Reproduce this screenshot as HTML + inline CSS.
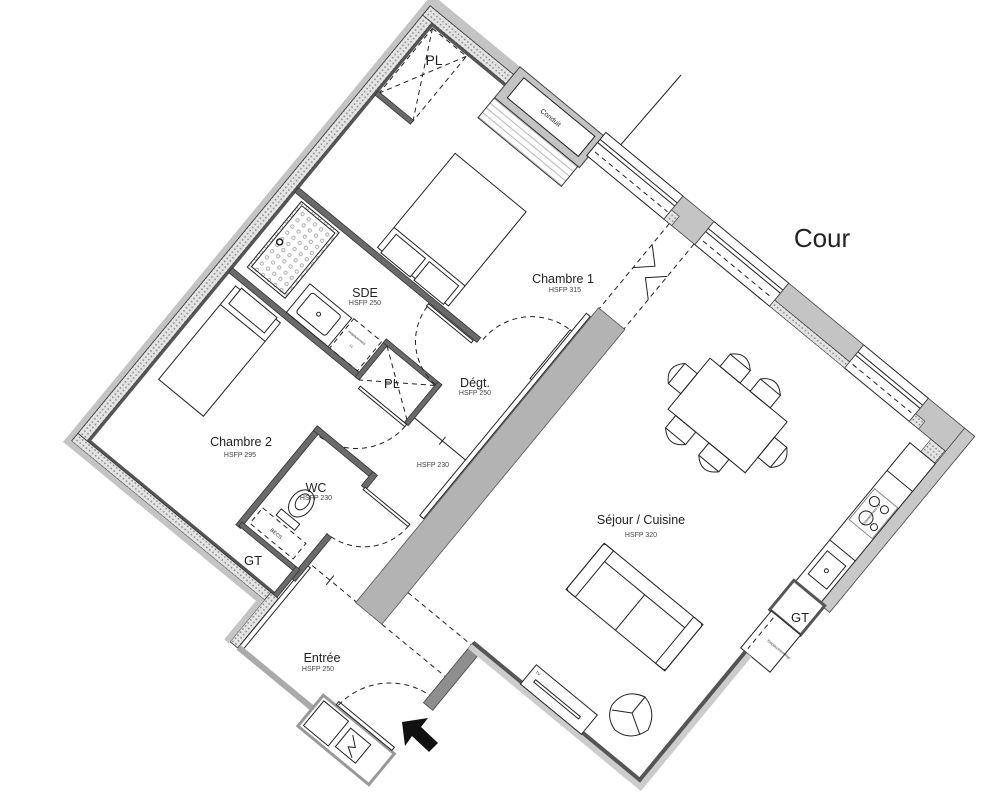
<!DOCTYPE html>
<html><head><meta charset="utf-8"><style>
html,body{margin:0;padding:0;background:#fff;width:994px;height:800px;overflow:hidden;}
#wrap{width:994px;height:800px;overflow:hidden;position:relative;}
svg{display:block;overflow:hidden;}
text{font-family:"Liberation Sans",Arial,sans-serif;fill:#222;}
.s{fill:none;stroke:#222;stroke-width:1;}
.w{fill:#fff;stroke:#222;stroke-width:1;}
.d{fill:none;stroke:#222;stroke-width:1;stroke-dasharray:5,4;}
.iw{fill:#6a6a6a;stroke:#333;stroke-width:0.8;}
.g{fill:#c4c4c4;stroke:#444;stroke-width:0.8;}
.h{font-size:7px;fill:#444;}
.l{font-size:12.5px;}
</style></head><body><div id="wrap">
<svg width="994" height="800" viewBox="0 0 994 800" xmlns="http://www.w3.org/2000/svg">
<defs>
<pattern id="ins" width="4" height="4" patternUnits="userSpaceOnUse"><rect width="4" height="4" fill="#e4e4e4"/><circle cx="2" cy="2" r="0.9" fill="#888"/></pattern>
<pattern id="dots" width="8" height="8" patternUnits="userSpaceOnUse"><rect width="8" height="8" fill="#fff"/><circle cx="4" cy="4" r="1.6" fill="none" stroke="#999" stroke-width="0.7"/></pattern>
<pattern id="hatch" width="6" height="6" patternUnits="userSpaceOnUse"><rect width="6" height="6" fill="#fff"/><line x1="0" y1="3" x2="6" y2="3" stroke="#999" stroke-width="0.7"/></pattern>
<clipPath id="cp"><rect x="0" y="0" width="994" height="800"/></clipPath>
</defs>
<g clip-path="url(#cp)">
<line x1="618" y1="148" x2="681" y2="75" class="s"/>
<circle cx="702" cy="218" r="3.5" class="w"/>

<g transform="translate(430,3) rotate(39.5)">
<rect x="-4" y="-6" width="6" height="578" fill="#c4c4c4"/>
<rect x="2" y="2" width="12" height="554" fill="url(#ins)" stroke="#333" stroke-width="0.8"/>
<rect x="14" y="14" width="3" height="540" fill="#555"/>
<rect x="-4" y="-8" width="116" height="10" fill="#c4c4c4"/>
<rect x="2" y="2" width="108" height="12" fill="url(#ins)" stroke="#333" stroke-width="0.8"/>
<rect x="14" y="14" width="96" height="3" fill="#555"/>
<rect x="110" y="-8" width="110" height="40" fill="#c4c4c4" stroke="#444"/>
<rect x="120" y="-2" width="92" height="26" class="w"/>
<text x="166" y="14" font-size="7" text-anchor="middle">Conduit</text>
<rect x="110" y="32" width="108" height="26" fill="url(#hatch)" stroke="#333"/>
<g>
<rect x="218" y="-12" width="100" height="30" class="w"/><line x1="218" y1="-3" x2="318" y2="-3" class="s"/><line x1="218" y1="1" x2="318" y2="1" class="s"/><line x1="222" y1="10" x2="316" y2="10" class="d"/>
<rect x="358" y="-12" width="97" height="30" class="w"/><line x1="358" y1="-3" x2="455" y2="-3" class="s"/><line x1="358" y1="1" x2="455" y2="1" class="s"/><line x1="362" y1="10" x2="452" y2="10" class="d"/>
<rect x="552" y="-12" width="84" height="30" class="w"/><line x1="552" y1="-3" x2="636" y2="-3" class="s"/><line x1="552" y1="1" x2="636" y2="1" class="s"/><line x1="556" y1="10" x2="632" y2="10" class="d"/>
</g>
<rect x="318" y="-12" width="40" height="30" class="g"/>
<rect x="318" y="6" width="10" height="12" fill="url(#ins)" stroke="#333" stroke-width="0.6"/>
<rect x="455" y="-12" width="97" height="22" class="g"/>
<rect x="455" y="10" width="97" height="8" fill="url(#ins)" stroke="#333" stroke-width="0.6"/>
<rect x="636" y="-12" width="60" height="30" class="g"/>
<rect x="636" y="8" width="12" height="10" fill="url(#ins)" stroke="#333" stroke-width="0.6"/>
<rect x="683" y="-12" width="13" height="228" fill="#c8c8c8" stroke="#444" stroke-width="0.8"/>
<rect x="664" y="18" width="18" height="16" fill="url(#ins)" stroke="#333" stroke-width="0.6"/>
<rect x="650" y="34" width="33" height="180" class="w"/>
<line x1="650" y1="70" x2="683" y2="70" class="s"/>
<rect x="652" y="92" width="30" height="40" fill="#fff" stroke="#888"/>
<circle cx="660" cy="102" r="5" class="s"/><circle cx="673" cy="102" r="4" class="s"/><circle cx="664" cy="120" r="7" class="s"/><circle cx="676" cy="122" r="3.5" class="s"/>
<line x1="650" y1="160" x2="683" y2="160" class="s"/>
<rect x="655" y="170" width="24" height="30" class="s"/><circle cx="667" cy="186" r="2" class="s"/>
<text x="690" y="140" font-size="3.5" transform="rotate(-90 672 145)">Emplacement LV</text>
<rect x="648" y="214" width="40" height="38" fill="#fff" stroke="#555" stroke-width="3"/>
<rect x="650" y="252" width="38" height="48" class="w"/>
<line x1="656" y1="256" x2="656" y2="296" class="d"/>
<text x="666" y="278" font-size="3.5">Emplacement frigo</text>
<rect x="14" y="553" width="245" height="3" fill="#555"/>
<rect x="2" y="556" width="257" height="10" fill="url(#ins)" stroke="#333" stroke-width="0.8"/>
<rect x="-4" y="566" width="256" height="6" fill="#c4c4c4"/>
<rect x="252" y="556" width="10" height="64" fill="url(#ins)" stroke="#333" stroke-width="0.8"/>
<rect x="246" y="566" width="6" height="56" fill="#c4c4c4"/>
<rect x="262" y="512" width="5" height="106" class="w"/>
<rect x="262" y="616" width="98" height="6" fill="#aaa"/>
<rect x="358" y="602" width="92" height="40" fill="#fff" stroke="#999" stroke-width="3"/>
<rect x="362" y="606" width="32" height="32" class="s"/>
<rect x="400" y="610" width="26" height="24" class="s"/>
<polyline points="406,614 416,622 410,626 420,632" class="s"/>
<rect x="374" y="597" width="72" height="4" class="w"/>
<path d="M376,600 A71,71 0 0 1 447,534" class="d"/>
<rect x="440" y="466" width="12" height="78" fill="#8e8e8e" stroke="#444" stroke-width="0.8"/>
<rect x="440" y="468" width="222" height="6" fill="#ccc"/>
<rect x="440" y="464" width="220" height="4" fill="#555"/>
<rect x="658" y="300" width="6" height="174" fill="#ccc"/>
<rect x="654" y="300" width="4" height="168" fill="#555"/>
<rect x="18" y="18" width="44" height="84" class="d"/>
<line x1="18" y1="18" x2="62" y2="102" class="d"/><line x1="62" y1="18" x2="18" y2="102" class="d"/>
<rect x="16" y="101" width="46" height="5" class="iw"/>
<rect x="16" y="226" width="236" height="6" class="iw"/>
<rect x="16" y="330" width="168" height="6" class="iw"/>
<rect x="180" y="287" width="5" height="49" class="iw"/>
<rect x="180" y="287" width="72" height="5" class="iw"/>
<rect x="247" y="287" width="5" height="53" class="iw"/>
<line x1="185" y1="292" x2="247" y2="336" class="d"/><line x1="247" y1="292" x2="185" y2="336" class="d"/>
<rect x="190" y="233" width="58" height="3" class="w"/>
<path d="M191,236 A57,57 0 0 0 248,291" class="d"/>
<rect x="316" y="163" width="4" height="63" class="w"/>
<path d="M255,226 A63,63 0 0 1 318,163" class="d"/>
<rect x="190" y="340" width="60" height="3" class="w"/>
<path d="M250,342 A64,64 0 0 1 186,405" class="d"/>
<line x1="252" y1="330" x2="324" y2="330" class="s"/>
<line x1="288" y1="325" x2="288" y2="335" class="s"/>
<rect x="182" y="398" width="6" height="128" class="iw"/>
<rect x="182" y="398" width="76" height="6" class="iw"/>
<rect x="254" y="398" width="6" height="18" class="iw"/>
<rect x="258" y="415" width="58" height="3" class="w"/>
<path d="M316,417 A58,58 0 0 1 258,475" class="d"/>
<rect x="258" y="475" width="6" height="57" class="iw"/>
<rect x="185" y="520" width="75" height="5" class="iw"/>
<rect x="255" y="520" width="5" height="36" class="iw"/>
<ellipse cx="219" cy="468" rx="11" ry="15" class="s"/>
<ellipse cx="219" cy="466" rx="6" ry="9" class="s"/>
<rect x="207" y="485" width="24" height="8" class="s"/>
<rect x="192" y="496" width="56" height="20" class="d"/>
<text x="212" y="509" font-size="5">BECS</text>
<line x1="267" y1="509" x2="324" y2="509" class="d"/>
<line x1="290" y1="503" x2="290" y2="515" class="s"/>
<rect x="324" y="128" width="34" height="382" fill="#b3b3b3" stroke="#555" stroke-width="0.8"/>
<rect x="318" y="140" width="5" height="262" class="w"/>
<line x1="325" y1="18" x2="325" y2="128" class="d"/>
<line x1="357" y1="18" x2="357" y2="128" class="d"/>
<polyline points="325,45 341,60 325,75" class="s"/>
<polyline points="357,60 341,75 357,90" class="s"/>
<line x1="358" y1="469" x2="440" y2="469" class="d"/>
<line x1="358" y1="510" x2="440" y2="510" class="d"/>
<rect x="115" y="100" width="92" height="122" class="w"/>
<line x1="115" y1="196" x2="207" y2="196" class="s"/>
<rect x="121" y="200" width="38" height="24" class="w"/>
<rect x="164" y="200" width="38" height="24" class="w"/>
<rect x="30" y="342" width="58" height="121" class="w"/>
<rect x="36" y="340" width="46" height="20" class="w"/>
<line x1="30" y1="366" x2="88" y2="366" class="s"/>
<rect x="27" y="235" width="49" height="85" fill="url(#dots)" stroke="#222"/>
<rect x="30" y="238" width="43" height="79" class="s"/>
<circle cx="36" cy="280" r="3" fill="none" stroke="#222" stroke-width="1.5"/>
<rect x="86" y="293" width="54" height="37" class="w"/>
<rect x="93" y="298" width="38" height="26" rx="3" class="s"/>
<circle cx="112" cy="311" r="2" class="s"/>
<rect x="142" y="292" width="36" height="38" class="d"/>
<text x="146" y="306" font-size="3.5">emplacement</text><text x="156" y="316" font-size="3.5">LL</text>
<rect x="442" y="96" width="100" height="66" class="w"/>
<g class="s">
<rect x="455" y="80" width="26" height="16"/><path d="M455,80 Q468,66 481,80"/>
<rect x="494" y="80" width="26" height="16"/><path d="M494,80 Q507,66 520,80"/>
<rect x="452" y="162" width="26" height="16"/><path d="M452,178 Q465,192 478,178"/>
<rect x="495" y="162" width="26" height="16"/><path d="M495,178 Q508,192 521,178"/>
<rect x="426" y="116" width="16" height="26"/><path d="M426,116 Q412,129 426,142"/>
<rect x="542" y="116" width="16" height="26"/><path d="M558,116 Q572,129 558,142"/>
</g>
<rect x="478" y="306" width="128" height="60" rx="3" class="w"/>
<rect x="478" y="306" width="12" height="60" class="s"/>
<rect x="594" y="306" width="12" height="60" class="s"/>
<line x1="490" y1="320" x2="594" y2="320" class="s"/>
<line x1="542" y1="320" x2="542" y2="366" class="s"/>
<rect x="503" y="443" width="79" height="25" class="w"/>
<rect x="512" y="455" width="58" height="3" class="s"/>
<text x="507" y="450" font-size="4">TV</text>
</g>

<path d="M612,705 Q625,688 645,697 Q657,712 648,730 Q630,742 615,730 Q606,718 612,705 Z" class="s"/>
<line x1="632" y1="713" x2="612" y2="710" class="s"/><line x1="632" y1="713" x2="645" y2="697" class="s"/><line x1="632" y1="713" x2="640" y2="735" class="s"/>
<polygon points="402,722 428,718 421,727 438,743 429,752 412,736 405,746" fill="#111"/>

<text x="434" y="65" font-size="14" text-anchor="middle">PL</text>
<text x="563" y="283" class="l" text-anchor="middle">Chambre 1</text>
<text x="565" y="292" class="h" text-anchor="middle">HSFP 315</text>
<text x="365" y="297" class="l" text-anchor="middle">SDE</text>
<text x="365" y="305" class="h" text-anchor="middle">HSFP 250</text>
<text x="392" y="388" font-size="13" text-anchor="middle">PL</text>
<text x="475" y="387" class="l" text-anchor="middle">Dégt.</text>
<text x="475" y="395" class="h" text-anchor="middle">HSFP 250</text>
<text x="241" y="446" class="l" text-anchor="middle">Chambre 2</text>
<text x="240" y="457" class="h" text-anchor="middle">HSFP 295</text>
<text x="433" y="467" class="h" text-anchor="middle">HSFP 230</text>
<text x="316" y="492" class="l" text-anchor="middle">WC</text>
<text x="316" y="500" class="h" text-anchor="middle">HSFP 230</text>
<text x="253" y="565" font-size="13" text-anchor="middle">GT</text>
<text x="322" y="662" class="l" text-anchor="middle">Entrée</text>
<text x="318" y="671" class="h" text-anchor="middle">HSFP 250</text>
<text x="641" y="524" class="l" text-anchor="middle">Séjour / Cuisine</text>
<text x="641" y="537" class="h" text-anchor="middle">HSFP 320</text>
<text x="822" y="247" font-size="26" text-anchor="middle">Cour</text>
<text x="800" y="622" font-size="13" text-anchor="middle">GT</text>
</g>
</svg>
</div></body></html>
